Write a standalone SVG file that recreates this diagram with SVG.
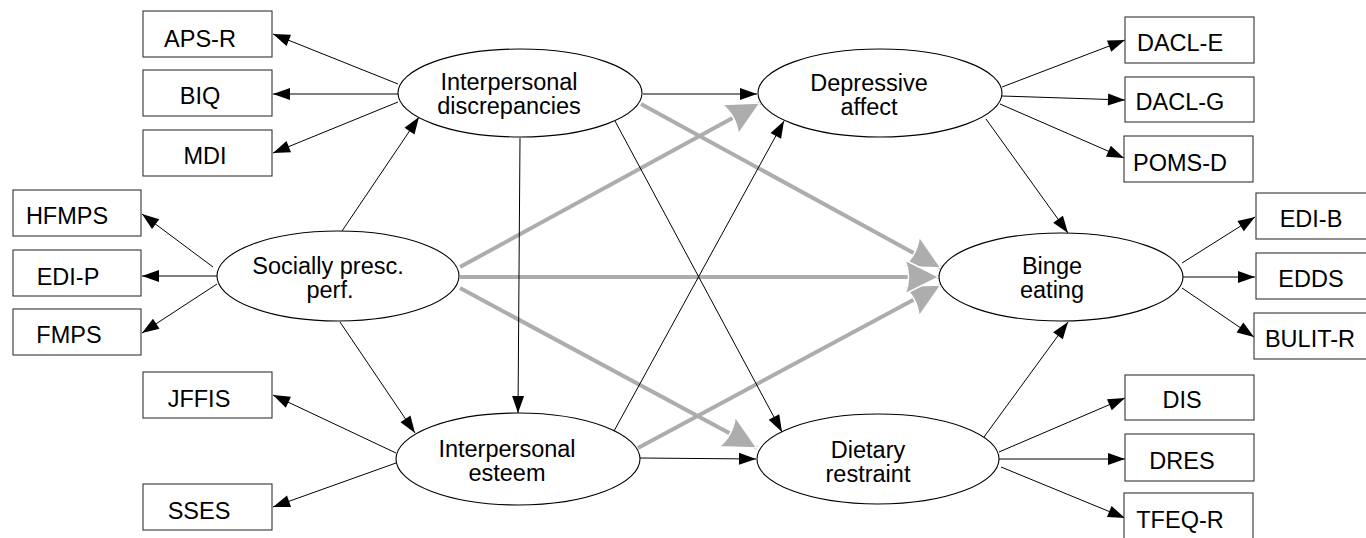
<svg xmlns="http://www.w3.org/2000/svg" width="1366" height="538" viewBox="0 0 1366 538">
<style>
.box{fill:#fff;stroke:#333;stroke-width:1.1}
.ell{fill:#fff;stroke:#000;stroke-width:1.1}
.t{font-family:"Liberation Sans",Arial,sans-serif;font-size:23.5px;fill:#000;text-anchor:middle}
.ln{stroke:#000;stroke-width:1;fill:none;marker-end:url(#ah)}
.gl{stroke:#adadad;stroke-width:4;fill:none;marker-end:url(#gh)}
</style>
<defs>
<marker id="ah" markerUnits="userSpaceOnUse" markerWidth="18" markerHeight="12" refX="17" refY="6" orient="auto" overflow="visible">
<path d="M0,0 L17,6 L0,12 z" fill="#000"/>
</marker>
<marker id="gh" markerUnits="userSpaceOnUse" markerWidth="36" markerHeight="34" refX="34" refY="17" orient="auto" overflow="visible">
<path d="M0,0 L34,17 L0,34 Q7,17 0,0 z" fill="#adadad" stroke="#fff" stroke-width="1.5"/>
</marker>
</defs>
<rect width="1366" height="538" fill="#fff"/>
<g id="connectors">
<line class="gl" x1="460" y1="267" x2="760" y2="103"/>
<line class="gl" x1="460" y1="288" x2="757" y2="448"/>
<line class="gl" x1="641" y1="104" x2="941" y2="268"/>
<line class="gl" x1="638" y1="448" x2="941" y2="285"/>
<line class="gl" x1="460" y1="277" x2="939" y2="277"/>
<line class="ln" x1="398" y1="84" x2="273" y2="34"/>
<line class="ln" x1="398" y1="94" x2="273" y2="94"/>
<line class="ln" x1="398" y1="102" x2="273" y2="153"/>
<line class="ln" x1="342" y1="231" x2="419" y2="117"/>
<line class="ln" x1="213" y1="267" x2="142" y2="214"/>
<line class="ln" x1="217" y1="276" x2="142" y2="276"/>
<line class="ln" x1="217" y1="284" x2="142" y2="333"/>
<line class="ln" x1="340" y1="322" x2="415" y2="433"/>
<line class="ln" x1="396" y1="453" x2="273" y2="395"/>
<line class="ln" x1="396" y1="463" x2="273" y2="507"/>
<line class="ln" x1="520" y1="138" x2="518" y2="413"/>
<line class="ln" x1="643" y1="94" x2="757" y2="94"/>
<line class="ln" x1="615" y1="121" x2="782" y2="432"/>
<line class="ln" x1="614" y1="431" x2="784" y2="121"/>
<line class="ln" x1="640" y1="458" x2="756" y2="459"/>
<line class="ln" x1="986" y1="119" x2="1068" y2="233"/>
<line class="ln" x1="984" y1="437" x2="1068" y2="322"/>
<line class="ln" x1="1002" y1="87" x2="1125" y2="40"/>
<line class="ln" x1="1002" y1="96" x2="1125" y2="100"/>
<line class="ln" x1="1000" y1="104" x2="1124" y2="158"/>
<line class="ln" x1="1182" y1="263" x2="1255" y2="217"/>
<line class="ln" x1="1183" y1="277" x2="1255" y2="277"/>
<line class="ln" x1="1182" y1="288" x2="1254" y2="337"/>
<line class="ln" x1="999" y1="452" x2="1125" y2="398"/>
<line class="ln" x1="999" y1="459" x2="1125" y2="459"/>
<line class="ln" x1="1001" y1="467" x2="1125" y2="518"/>
</g>
<g id="n-interpersonal-discrepancies"><ellipse class="ell" cx="520" cy="93" rx="122" ry="44"/><text class="t" x="509" y="90">Interpersonal</text><text class="t" x="509" y="114">discrepancies</text></g>
<g id="n-depressive-affect"><ellipse class="ell" cx="880" cy="93" rx="122" ry="44"/><text class="t" x="869" y="91">Depressive</text><text class="t" x="869" y="115">affect</text></g>
<g id="n-socially-presc-perf"><ellipse class="ell" cx="338" cy="276" rx="121" ry="45"/><text class="t" x="328" y="274">Socially presc.</text><text class="t" x="330" y="298">perf.</text></g>
<g id="n-binge-eating"><ellipse class="ell" cx="1061" cy="277" rx="122" ry="44"/><text class="t" x="1052" y="274">Binge</text><text class="t" x="1052" y="298">eating</text></g>
<g id="n-interpersonal-esteem"><ellipse class="ell" cx="518" cy="459" rx="122" ry="46"/><text class="t" x="507" y="457">Interpersonal</text><text class="t" x="507" y="481">esteem</text></g>
<g id="n-dietary-restraint"><ellipse class="ell" cx="878" cy="459" rx="121" ry="45"/><text class="t" x="868" y="458">Dietary</text><text class="t" x="868" y="482">restraint</text></g>
<g id="n-aps-r"><rect class="box" x="143" y="11" width="129" height="46"/><text class="t" x="200" y="47">APS-R</text></g>
<g id="n-biq"><rect class="box" x="143" y="70" width="129" height="46"/><text class="t" x="200" y="104">BIQ</text></g>
<g id="n-mdi"><rect class="box" x="143" y="130" width="129" height="46"/><text class="t" x="205" y="164">MDI</text></g>
<g id="n-hfmps"><rect class="box" x="13" y="190" width="128" height="46"/><text class="t" x="67" y="224">HFMPS</text></g>
<g id="n-edi-p"><rect class="box" x="13" y="250" width="128" height="46"/><text class="t" x="68" y="285">EDI-P</text></g>
<g id="n-fmps"><rect class="box" x="13" y="309" width="128" height="46"/><text class="t" x="69" y="343">FMPS</text></g>
<g id="n-jffis"><rect class="box" x="143" y="372" width="129" height="46"/><text class="t" x="199" y="407">JFFIS</text></g>
<g id="n-sses"><rect class="box" x="143" y="484" width="129" height="46"/><text class="t" x="199" y="519">SSES</text></g>
<g id="n-dacl-e"><rect class="box" x="1125" y="17" width="129" height="46"/><text class="t" x="1180" y="51">DACL-E</text></g>
<g id="n-dacl-g"><rect class="box" x="1125" y="77" width="129" height="45"/><text class="t" x="1180" y="110">DACL-G</text></g>
<g id="n-poms-d"><rect class="box" x="1124" y="136" width="129" height="46"/><text class="t" x="1180" y="171">POMS-D</text></g>
<g id="n-edi-b"><rect class="box" x="1256" y="193" width="130" height="46"/><text class="t" x="1311" y="227">EDI-B</text></g>
<g id="n-edds"><rect class="box" x="1256" y="253" width="130" height="46"/><text class="t" x="1311" y="287">EDDS</text></g>
<g id="n-bulit-r"><rect class="box" x="1254" y="313" width="132" height="46"/><text class="t" x="1310" y="347">BULIT-R</text></g>
<g id="n-dis"><rect class="box" x="1125" y="375" width="129" height="45"/><text class="t" x="1182" y="408">DIS</text></g>
<g id="n-dres"><rect class="box" x="1125" y="434" width="129" height="47"/><text class="t" x="1182" y="469">DRES</text></g>
<g id="n-tfeq-r"><rect class="box" x="1124" y="493" width="129" height="46"/><text class="t" x="1180" y="528">TFEQ-R</text></g>
</svg>
